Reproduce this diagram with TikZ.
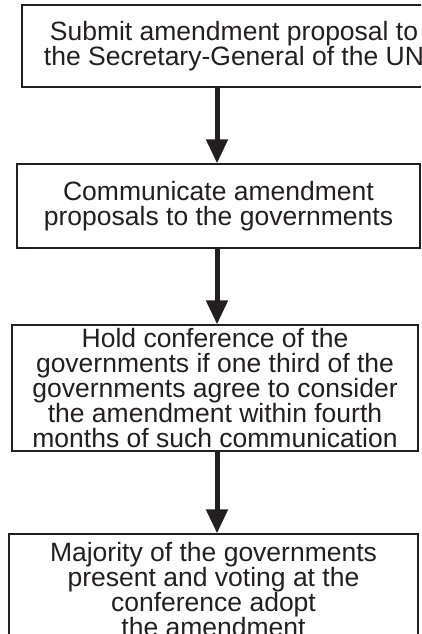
\documentclass[tikz,border=0pt]{standalone}
\usepackage{fontspec}
\setmainfont{Liberation Sans}
\usetikzlibrary{arrows.meta,positioning}
\definecolor{ink}{HTML}{231F20}

\begin{document}
\begin{tikzpicture}[x=1pt,y=-1pt,
    stage/.style={draw=ink,line width=1.3pt,inner sep=0pt,align=center,text=ink,
      font=\fontsize{26.5}{25}\selectfont},
    flow/.style={draw=ink,line width=5pt,-{Triangle[width=21pt,length=24pt]}}]
  \def\spine{217}
  \useasboundingbox (0,0) rectangle (421,634);
  \clip (0,0) rectangle (421,634);

  \node[stage,line width=2.6pt,minimum width=424pt,minimum height=82pt] (b1) at (234,46)
    {Submit amendment proposal to\\the Secretary-General of the UN};
  \node[stage,minimum width=403pt,minimum height=84pt] (b2) at (218.5,206)
    {Communicate amendment\\proposals to the governments};
  \node[stage,minimum width=406pt,minimum height=126pt] (b3) at (215,388)
    {Hold conference of the\\governments if one third of the\\governments agree to consider\\the amendment within fourth\\months of such communication};
  \node[stage,minimum width=409pt,minimum height=112pt] (b4) at (213.5,590)
    {Majority of the governments\\present and voting at the\\conference adopt\\the amendment};

  \coordinate (s) at (\spine,0);
  \draw[flow] (b1.south -| s) -- (b2.north -| s);
  \draw[flow] (b2.south -| s) -- (b3.north -| s);
  \draw[flow] (b3.south -| s) -- (b4.north -| s);
\end{tikzpicture}
\end{document}
